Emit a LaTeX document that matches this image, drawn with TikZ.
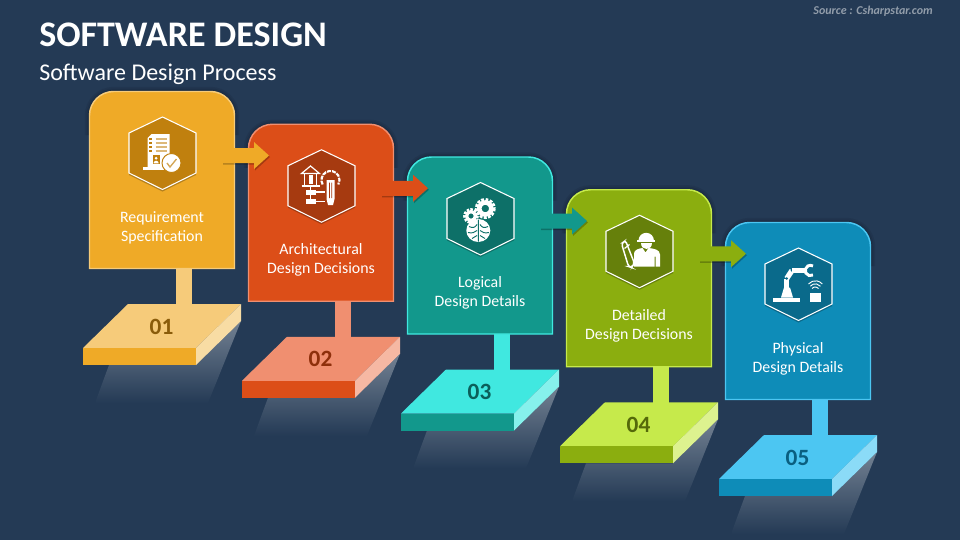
\documentclass[tikz,border=0pt]{standalone}
\usepackage{fontspec}
\setmainfont{Carlito}
\usepackage{amsmath}
\usetikzlibrary{calc}
\definecolor{slate}{HTML}{243A55}
\definecolor{card0}{HTML}{EFAA27}\definecolor{edge0}{HTML}{F6CB7A}\definecolor{side0}{HTML}{F8DCA4}\definecolor{hexa0}{HTML}{C0800E}\definecolor{nums0}{HTML}{8A5C0A}
\definecolor{card1}{HTML}{DC4E18}\definecolor{edge1}{HTML}{F08F70}\definecolor{side1}{HTML}{F6B8A3}\definecolor{hexa1}{HTML}{A63A10}\definecolor{nums1}{HTML}{8E2F0B}
\definecolor{card2}{HTML}{12988C}\definecolor{edge2}{HTML}{40E8E0}\definecolor{side2}{HTML}{86F1EC}\definecolor{hexa2}{HTML}{0D7068}\definecolor{nums2}{HTML}{0B5F5A}
\definecolor{card3}{HTML}{8BAE0F}\definecolor{edge3}{HTML}{C6EA4B}\definecolor{side3}{HTML}{DDF28F}\definecolor{hexa3}{HTML}{66800B}\definecolor{nums3}{HTML}{55690A}
\definecolor{card4}{HTML}{0E8CB8}\definecolor{edge4}{HTML}{4CC6F2}\definecolor{side4}{HTML}{8BDBF7}\definecolor{hexa4}{HTML}{0A6A8B}\definecolor{nums4}{HTML}{0A5F80}
\tikzset{
  steplabel/.style={text=white,align=center,inner sep=0pt,font=\fontsize{11.9}{14.25}\selectfont},
  stepnum/.style={inner sep=0pt,font=\bfseries\fontsize{17.5}{17.5}\selectfont},
  iconline/.style={draw=white,line width=0.9pt,fill=none},
}
\def\cardpath{(89.5,268.5) -- (89.5,115.5) .. controls (89.5,102.3) and (100.3,91.5) .. (113.5,91.5) -- (210.5,91.5) .. controls (223.7,91.5) and (234.5,102.3) .. (234.5,115.5) -- (234.5,268.5) -- cycle}
\def\hexpath{(129,133) -- (162.5,117) -- (196,133) -- (196,173) -- (162.5,189.5) -- (129,173) -- cycle}
\begin{document}
\begin{tikzpicture}[x=0.75pt,y=-0.75pt]
\useasboundingbox (0,0) rectangle (960,540);
\fill[slate] (0,0) rectangle (960,540);
\node[anchor=west,inner sep=0pt,text=white,font=\bfseries\fontsize{27}{27}\selectfont] (title) at (39,35) {SOFTWARE DESIGN};
\node[anchor=west,inner sep=0pt,text=white,font=\fontsize{18}{18}\selectfont] (subtitle) at (39,74) {Software Design Process};
\node[anchor=east,inner sep=0pt,text=white!50!slate,font=\bfseries\itshape\fontsize{9}{9}\selectfont] (source) at (933,11) {Source : Csharpstar.com};
% cards, stems and platforms
\foreach \i/\lineone/\linetwo in {0/Requirement/Specification,1/Architectural/Design Decisions,2/Logical/Design Details,3/Detailed/Design Decisions,4/Physical/Design Details}{
\pgfmathtruncatemacro{\n}{\i+1}
\begin{scope}[shift={(159*\i,32.75*\i)}]
\shade[top color=white!36!slate,bottom color=slate] (109,365) -- (196,365) -- (241,321) -- (208,403) -- (95,403) -- cycle;
\fill[edge\i] (176,268) rectangle (192,305);
\fill[edge\i] (83,348) -- (128,304) -- (241,304) -- (196,348) -- cycle;
\fill[side\i] (196,348) -- (241,304) -- (241,321) -- (196,365) -- cycle;
\fill[card\i] (83,348) rectangle (196,365);
\node[stepnum,text=nums\i] (num\n) at (161.5,326.5) {0\n};
\foreach \w in {7,4.5,2.5}
  \draw[black,opacity=0.07,line width=\w pt] (89.5,135) -- (89.5,115.5) .. controls (89.5,102.3) and (100.3,91.5) .. (113.5,91.5) -- (210.5,91.5) .. controls (223.7,91.5) and (234.5,102.3) .. (234.5,115.5) -- (234.5,135);
\fill[card\i,draw=edge\i,line width=1.1pt] \cardpath;
\fill[black,opacity=0.25,yshift=-1.5pt] \hexpath;
\fill[hexa\i,draw=white,line width=0.8pt] \hexpath;
\node[steplabel] (label\n) at (162,227.5) {\lineone\\\linetwo};
\end{scope}
}
% arrows from card to card
\foreach \i in {0,1,2,3}{
\begin{scope}[shift={(159*\i,32.75*\i)}]
\fill[black,opacity=0.25] (223,149.5) -- (255,149.5) -- (255,143.5) -- (270,157) -- (255,170.5) -- (255,164.5) -- (223,164.5) -- cycle;
\fill[card\i] (222,148) -- (254,148) -- (254,142) -- (269,155.5) -- (254,169) -- (254,163) -- (222,163) -- cycle;
\end{scope}
}
% icon 1
\begin{scope}[shift={(162.5,153)}]
\fill[white] (-15,-15) -- (-11,-19) -- (7,-19) -- (7,14) -- (-15,14) -- cycle;
\fill[white] (-20,14) rectangle (4,16.5);
\foreach \y in {-14,-10,-6,-2}{
  \draw[hexa0!55!white,line width=0.8pt] (-7,\y) -- (4,\y);
  \fill[hexa0] (-14,\y-1.2) rectangle (-11,\y+1.2);
}
\fill[hexa0] (-10,2.3) rectangle (-2.8,11.3);
\fill[white] (-6.4,5.2) circle (1.5);
\fill[white] (-9,10.3) arc[start angle=180,end angle=360,radius=2.6];
\fill[white,draw=hexa0,line width=0.7pt] (9,10) circle (9.5);
\draw[hexa0!70!white,line width=1pt] (4.5,10) -- (7.5,14) -- (14,6);
\end{scope}
% icon 2
\begin{scope}[shift={(321.5,186)}]
\draw[iconline] (-20,-12.5) -- (-11,-20) -- (-2,-12.5) -- cycle;
\draw[iconline] (-17,-12) -- (-17,0) (-5,-12) -- (-5,0) (-20,0) -- (-2,0);
\fill[white] (-13,-11) rectangle (-9,-2);
\draw[iconline] (-11,0) -- (-11,14);
\fill[white] (-16,4) rectangle (-6,8.5);
\fill[white] (-16,13) rectangle (-6,17.5);
\draw[iconline] (-6,6) -- (3,6) (-6,15.5) -- (3,15.5);
\draw[white,line width=1.6pt,dash pattern=on 3pt off 0.8pt] (1.2,-1.5) arc[start angle=150,end angle=390,radius=9];
\fill[white] (5,-6) -- (13,-6) -- (13,13) -- (11.5,19) -- (6.5,19) -- (5,13) -- cycle;
\fill[hexa1] (7.5,-3.5) rectangle (8.4,12) (9.8,-3.5) rectangle (10.7,12);
\end{scope}
% icon 3
\begin{scope}[shift={(480,219.5)}]
\draw[white,line width=3pt,dash pattern=on 2pt off 1pt] (5.3,-11) circle (8.5);
\draw[white,line width=3.4pt] (5.3,-11) circle (6);
\draw[white,line width=2pt,dash pattern=on 1.8pt off 1pt] (-9,-3.5) circle (6.5);
\draw[white,line width=2.4pt] (-9,-3.5) circle (4.4);
\fill[white] (-1.7,11) ellipse (12 and 11.5);
\draw[hexa2,line width=0.7pt] (-1.7,0) -- (-1.7,22) (-11,7) .. controls (-7,9) and (-5,8) .. (-3,5) (-12,13) .. controls (-8,14) and (-5,13) .. (-3,11) (-8,19) .. controls (-6,17) and (-5,17) .. (-3,16);
\draw[hexa2,line width=0.7pt] (8,7) .. controls (4,9) and (2,8) .. (0,5) (9,13) .. controls (5,14) and (2,13) .. (0,11) (5,19) .. controls (3,17) and (2,17) .. (0,16);
\end{scope}
% icon 4
\begin{scope}[shift={(639.5,251.5)}]
\fill[white] (-1,-11) arc[start angle=180,end angle=360,radius=7.7];
\fill[white] (-2.5,-11.5) rectangle (15,-9.5);
\fill[white] (1,-8.5) .. controls (1,-1) and (12,-1) .. (12,-8.5) -- cycle;
\fill[white] (-5.5,15) -- (-5.5,2) .. controls (-5.5,-2) and (0,-3) .. (3,-3.5) -- (6,1) -- (9,-3.5) .. controls (14,-3) and (20.5,-2) .. (20.5,3) -- (20.5,15) -- (16,15) -- (16,5) -- (15,5) -- (15,15) -- cycle;
\draw[white,line width=1.1pt,rounded corners=2pt] (-18,-8) -- (-14,-11) -- (-5,12) -- (-8,16) -- (-11,15) -- cycle;
\draw[white,line width=0.9pt] (-15,-3) -- (-10,-7);
\end{scope}
% icon 5
\begin{scope}[shift={(798,284.5)}]
\fill[white] (-24.7,13) rectangle (2,17);
\fill[white] (-17,13) -- (-14,3) -- (-8,3) -- (-5,13) -- cycle;
\draw[white,line width=4pt] (-11.3,3) -- (-11.3,-6);
\draw[white,line width=4pt] (-11.3,-6) -- (-6,-14);
\fill[hexa4] (-11.3,-6) circle (1.3) (-6,-14) circle (1.3);
\draw[white,line width=3.5pt] (-6,-14) -- (7,-14);
\draw[white,line width=2.2pt] (15,-9.5) arc[start angle=60,end angle=300,radius=5.2];
\fill[white] (12,8) rectangle (23,17);
\draw[white,line width=0.7pt] (14,4) arc[start angle=220,end angle=320,radius=4.3];
\draw[white,line width=0.7pt] (12.3,1.7) arc[start angle=220,end angle=320,radius=6.6];
\draw[white,line width=0.7pt] (10.5,-0.5) arc[start angle=220,end angle=320,radius=9];
\end{scope}
\end{tikzpicture}
\end{document}
